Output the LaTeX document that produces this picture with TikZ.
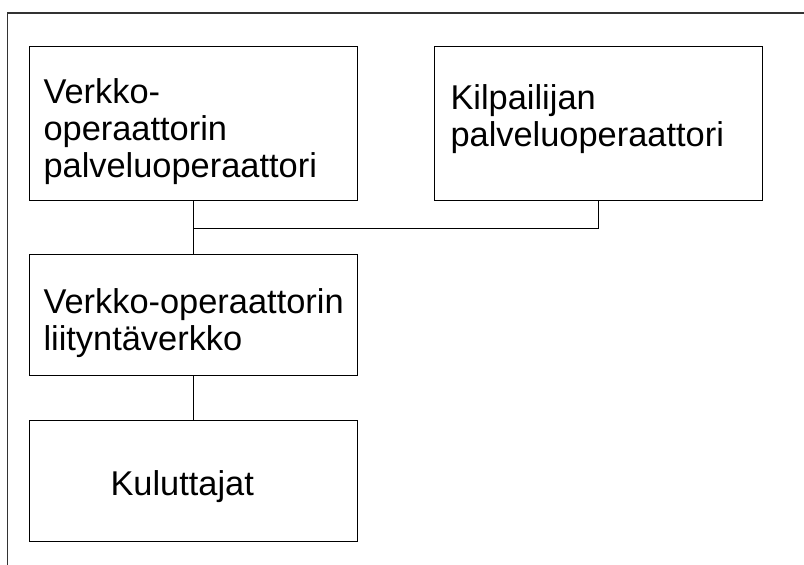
\documentclass[tikz,border=0pt]{standalone}
\usepackage{fontspec}
\setmainfont{Liberation Sans}
\begin{document}
\begin{tikzpicture}[x=1pt,y=-1pt,
  line width=1pt,
  box/.style={draw=black, line width=1pt, rectangle, inner sep=0pt, minimum width=328pt},
  lbl/.style={anchor=base west, inner sep=0pt, font=\fontsize{34.4}{37}\selectfont}]
\useasboundingbox (0,0) rectangle (804,565);
% frame: top and left edges only
\draw[line width=1.2pt, black!80] (804,13) -- (7.5,13) -- (7.5,565);

% boxes
\node[box, minimum height=154pt] (b1) at (193,123) {};
\node[box, minimum height=154pt] (b2) at (598,123) {};
\node[box, minimum height=121pt] (b3) at (193,314.5) {};
\node[box, minimum height=121pt] (b4) at (193,480.5) {};

% labels
\node[lbl] (t1a) at (43,103) {Verkko-};
\node[lbl] (t1b) at (43,140) {operaattorin};
\node[lbl] (t1c) at (43,177) {palveluoperaattori};
\node[lbl] (t2a) at (450,109) {Kilpailijan};
\node[lbl] (t2b) at (450,146) {palveluoperaattori};
\node[lbl] (t3a) at (43,313) {Verkko-operaattorin};
\node[lbl] (t3b) at (43,350) {liityntäverkko};
\node[lbl] (t4a) at (110,495) {Kuluttajat};

% connectors
\coordinate (j) at (193,228);
\draw (b1.south) -- (b3.north);
\draw (b2.south) |- (j);
\draw (b3.south) -- (b4.north);
\end{tikzpicture}
\end{document}
